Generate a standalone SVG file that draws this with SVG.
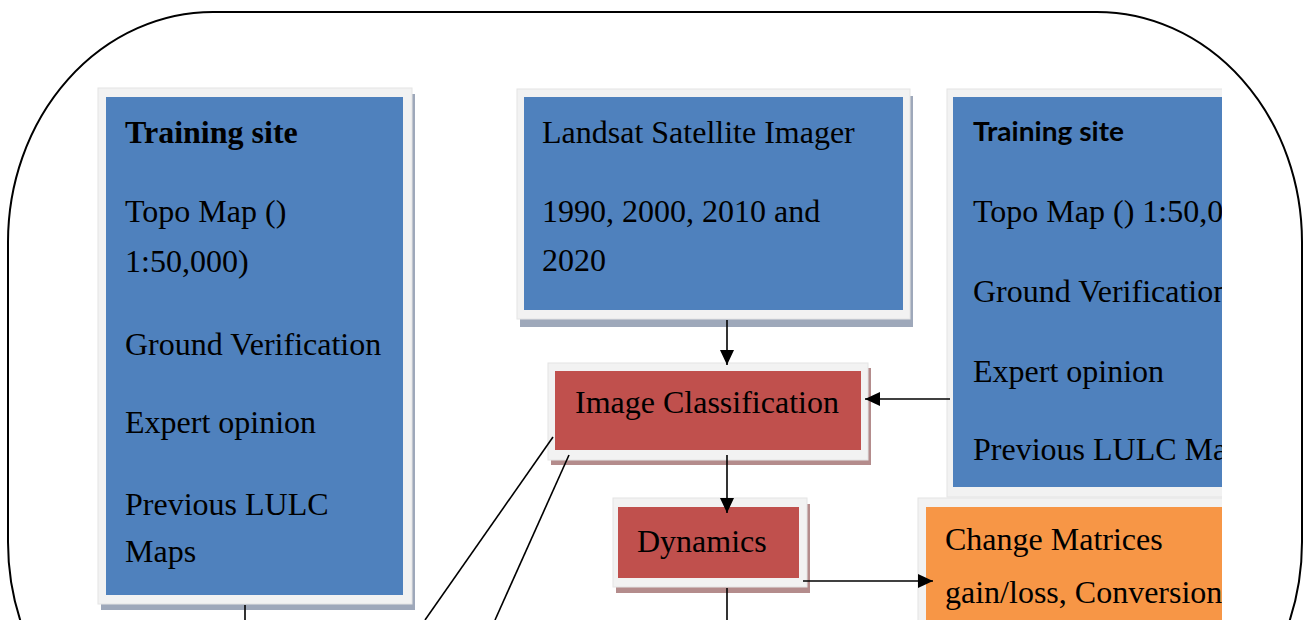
<svg xmlns="http://www.w3.org/2000/svg" width="1307" height="620" viewBox="0 0 1307 620">
<style>
  .t { font-family: "Liberation Serif", "Times New Roman", serif; font-size: 32px; fill: #000; }
  .tb { font-weight: bold; }
  .ts { font-family: Lato, "Liberation Sans", sans-serif; font-size: 26px; font-weight: bold; fill: #000; }
  .rim { fill: #f2f2f2; stroke: #e4e4e4; stroke-width: 1; }
  .blue { fill: #4f81bd; }
  .red { fill: #c0504d; }
  .orange { fill: #f79646; }
  .shb { fill: #9ea8ba; }
  .shr { fill: #b48c8c; }
  .conn path { fill: none; stroke: #000; stroke-width: 1.6; }
  .frame { fill: none; stroke: #000; stroke-width: 2; }
</style>
<defs>
  <marker id="arr" markerUnits="userSpaceOnUse" markerWidth="16" markerHeight="16" refX="15" refY="7" orient="auto">
    <path d="M0,0 L15,7 L0,14 z" fill="#000"/>
  </marker>
  <clipPath id="clipR">
    <rect x="0" y="0" width="1222" height="620"/>
  </clipPath>
</defs>
<rect x="0" y="0" width="1307" height="620" fill="#fff"/>
<rect class="frame" x="8" y="12" width="1294" height="760" rx="205" ry="230"/>

<g id="training-left">
  <rect class="shb" x="101" y="94" width="314" height="516"/>
  <rect class="rim" x="98" y="88" width="314" height="516"/>
  <rect class="blue" x="106" y="97" width="297" height="498"/>
  <text class="t tb" x="125" y="143">Training site</text>
  <text class="t" x="125" y="222">Topo Map ()</text>
  <text class="t" x="125" y="272">1:50,000)</text>
  <text class="t" x="125" y="355">Ground Verification</text>
  <text class="t" x="125" y="433">Expert opinion</text>
  <text class="t" x="125" y="515">Previous LULC</text>
  <text class="t" x="125" y="562">Maps</text>
</g>

<g id="landsat">
  <rect class="shb" x="520" y="96" width="393" height="231"/>
  <rect class="rim" x="517" y="89" width="393" height="230"/>
  <rect class="blue" x="524" y="97" width="379" height="213"/>
  <text class="t" x="542" y="143">Landsat Satellite Imager</text>
  <text class="t" x="542" y="222">1990, 2000, 2010 and</text>
  <text class="t" x="542" y="271">2020</text>
</g>

<g id="image-classification">
  <rect class="shr" x="551" y="368" width="320" height="97"/>
  <rect class="rim" x="548" y="363" width="320" height="97"/>
  <rect class="red" x="555" y="371" width="306" height="79"/>
  <text class="t" x="575" y="413">Image Classification</text>
</g>

<g id="dynamics">
  <rect class="shr" x="616" y="504" width="194" height="89"/>
  <rect class="rim" x="613" y="498" width="194" height="89"/>
  <rect class="red" x="618" y="507" width="181" height="71"/>
  <text class="t" x="637" y="552">Dynamics</text>
</g>

<g id="training-right" clip-path="url(#clipR)">
  <rect class="rim" x="947" y="89" width="320" height="408"/>
  <rect class="blue" x="953" y="97" width="310" height="390"/>
  <text class="ts" x="973" y="141" textLength="151" lengthAdjust="spacingAndGlyphs">Training site</text>
  <text class="t" x="973" y="222">Topo Map () 1:50,000)</text>
  <text class="t" x="973" y="302">Ground Verification</text>
  <text class="t" x="973" y="382">Expert opinion</text>
  <text class="t" x="973" y="460">Previous LULC Maps</text>
</g>

<g id="change-matrices" clip-path="url(#clipR)">
  <rect class="rim" x="918" y="498" width="340" height="140"/>
  <rect class="orange" x="926" y="507" width="330" height="130"/>
  <text class="t" x="945" y="550">Change Matrices</text>
  <text class="t" x="945" y="603">gain/loss, Conversion</text>
</g>

<g id="connectors" class="conn">
  <path d="M727,320 V365" marker-end="url(#arr)"/>
  <path d="M950,399 H865" marker-end="url(#arr)"/>
  <path d="M727,455 V513" marker-end="url(#arr)"/>
  <path d="M803,581 H933" marker-end="url(#arr)"/>
  <path d="M727,588 V620"/>
  <path d="M245,605 V620"/>
  <path d="M553,437 L425,620"/>
  <path d="M569,455 L495,620"/>
</g>
</svg>
